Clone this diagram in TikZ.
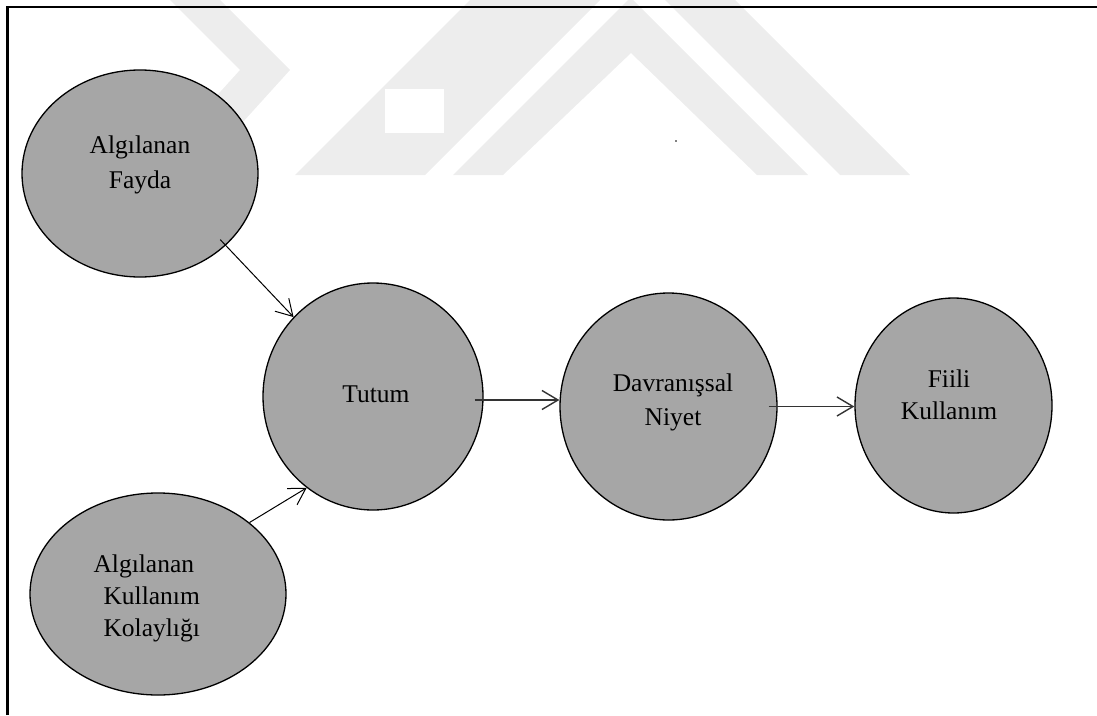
\documentclass[tikz,border=0pt]{standalone}
\usepackage{fontspec}
\setmainfont{Liberation Serif}
\usetikzlibrary{shapes.geometric,arrows.meta,calc}
\definecolor{bubblegray}{RGB}{166,166,166}
\definecolor{wmgray}{RGB}{237,237,237}
\begin{document}
\begin{tikzpicture}[x=1pt,y=-1pt,
  bubble/.style={ellipse,draw=black,line width=1.3pt,fill=bubblegray,inner sep=0pt},
  lbl/.style={align=center,inner sep=0pt},
  arr/.style={-{Straight Barb[length=16pt,width=19pt]},line width=1pt},
  wm/.style={fill=wmgray,draw=none}
]
\useasboundingbox (0,0) rectangle (1097,715);

% faint background logo
\fill[wm] (453,175) -- (628,0) -- (633,0) -- (808,175) -- (757,175) -- (631,53) -- (503,175) -- cycle;
\fill[wm] (470,0) -- (600,0) -- (425,175) -- (295,175) -- cycle;
\fill[wm] (170,0) -- (220,0) -- (290,70) -- (195,175) -- (145,175) -- (240,70) -- cycle;
\fill[wm] (665,0) -- (735,0) -- (910,175) -- (840,175) -- cycle;
\fill[white] (385,89) rectangle (444,133);
\fill (676,141) circle (0.8);

% frame
\draw[line width=2.4pt] (7.3,715) -- (7.3,6.7) -- (1097,6.7);

% constructs
\node[bubble,minimum width=236pt,minimum height=207pt] (fayda) at (140,173.5) {};
\node[bubble,minimum width=220pt,minimum height=227pt] (tutum) at (373,396.5) {};
\node[bubble,minimum width=217pt,minimum height=227pt] (niyet) at (668.5,406.5) {};
\node[bubble,minimum width=197pt,minimum height=215pt] (fiili) at (953.5,405.5) {};
\node[bubble,minimum width=256pt,minimum height=202pt] (kolay) at (158,594) {};

\node[lbl,font=\fontsize{25.5}{35}\selectfont] (fayda-t) at (140,164.5) {Algılanan\\Fayda};
\node[lbl,font=\fontsize{25.5}{33}\selectfont] (tutum-t) at (376,394.4) {Tutum};
\node[lbl,font=\fontsize{25.5}{33.3}\selectfont] (niyet-t) at (673,402.3) {Davranışsal\\Niyet};
\node[lbl,font=\fontsize{25.5}{32.7}\selectfont] (fiili-t) at (949,394.8) {Fiili\\Kullanım};
\node[lbl,align=left,font=\fontsize{25.5}{32}\selectfont] (kolay-t) at (146.7,598.7)
  {Algılanan\\\hspace*{10pt}Kullanım\\\hspace*{10pt}Kolaylığı};

% relations
\draw[arr,shorten <=-8pt] (fayda.-40) -- (tutum.135);
\draw[arr] (kolay.38) -- (tutum.234);
\draw[arr,line width=1.4pt,draw=black!80] ([xshift=-9pt,yshift=-3.5pt]tutum.east) -- ([yshift=-3.5pt]tutum.east -| niyet.west);
\draw[arr,line width=1.4pt,draw=black!80] ([xshift=-9pt]niyet.east) -- (niyet.east -| fiili.west);
\end{tikzpicture}
\end{document}
